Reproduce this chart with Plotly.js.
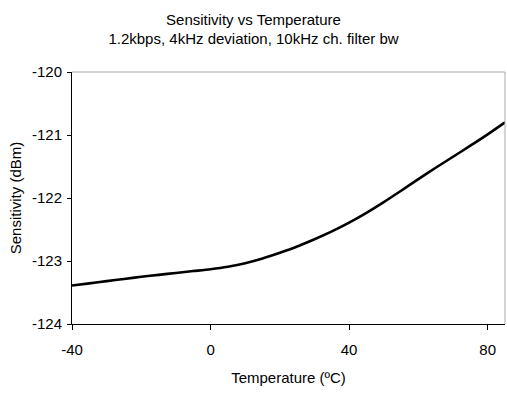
<!DOCTYPE html>
<html>
<head>
<meta charset="utf-8">
<script src="https://cdn.plot.ly/plotly-3.0.1.min.js"></script>
<style>html,body{margin:0;padding:0;background:#fff;}#chart{width:507px;height:398px;}</style>
</head>
<body>
<div id="chart"></div>
<script>
var temperature = [-40, -35, -30, -25, -20, -15, -10, -5, 0, 5, 10, 15, 20, 25, 30, 35, 40, 45, 50, 55, 60, 65, 70, 75, 80, 85];
var sensitivity = [-123.39, -123.355, -123.32, -123.285, -123.25, -123.22, -123.19, -123.16, -123.13, -123.09, -123.035, -122.96, -122.87, -122.77, -122.655, -122.53, -122.39, -122.235, -122.065, -121.885, -121.70, -121.52, -121.345, -121.17, -120.99, -120.80];
var xTicks = [-40, 0, 40, 80];
var yTicks = [-124, -123, -122, -121, -120];

var font = "'Liberation Sans', Arial, sans-serif";
var data = [{
  x: temperature, y: sensitivity, type: 'scatter', mode: 'lines',
  line: {color: '#000', width: 2.6, shape: 'spline', smoothing: 0.8},
  hoverinfo: 'none'
}];
var layout = {
  width: 507, height: 398,
  margin: {l: 72, r: 2, t: 72, b: 74},
  paper_bgcolor: '#fff', plot_bgcolor: '#fff',
  showlegend: false,
  font: {family: font, color: '#000', size: 15},
  title: {
    text: 'Sensitivity vs Temperature<br>1.2kbps, 4kHz deviation, 10kHz ch. filter bw',
    font: {family: font, size: 15, color: '#000'},
    x: 0.5, xanchor: 'center', y: 0.938, yanchor: 'middle'
  },
  xaxis: {
    range: [-40, 85], tickvals: xTicks, ticktext: xTicks.map(String),
    showgrid: false, zeroline: false,
    showline: true, linecolor: '#000', linewidth: 1,
    ticks: 'outside', ticklen: 5, tickcolor: '#000',
    ticklabelstandoff: 7,
    tickfont: {family: font, size: 15},
    title: {text: 'Temperature (ºC)', font: {family: font, size: 15}, standoff: 15}
  },
  yaxis: {
    range: [-124, -120], tickvals: yTicks, ticktext: yTicks.map(String),
    showgrid: false, zeroline: false,
    showline: true, linecolor: '#000', linewidth: 1,
    ticks: 'outside', ticklen: 4, tickcolor: '#000',
    ticklabelstandoff: 2,
    tickfont: {family: font, size: 15},
    title: {text: 'Sensitivity (dBm)', font: {family: font, size: 15}, standoff: 6}
  },
  shapes: [
    {type: 'line', xref: 'paper', yref: 'paper', x0: 0, x1: 1, y0: 1, y1: 1, line: {color: '#aaaaaa', width: 1}},
    {type: 'line', xref: 'paper', yref: 'paper', x0: 1, x1: 1, y0: 0, y1: 1, line: {color: '#aaaaaa', width: 1}}
  ]
};
Plotly.newPlot('chart', data, layout, {staticPlot: true, displayModeBar: false});
</script>
</body>
</html>
